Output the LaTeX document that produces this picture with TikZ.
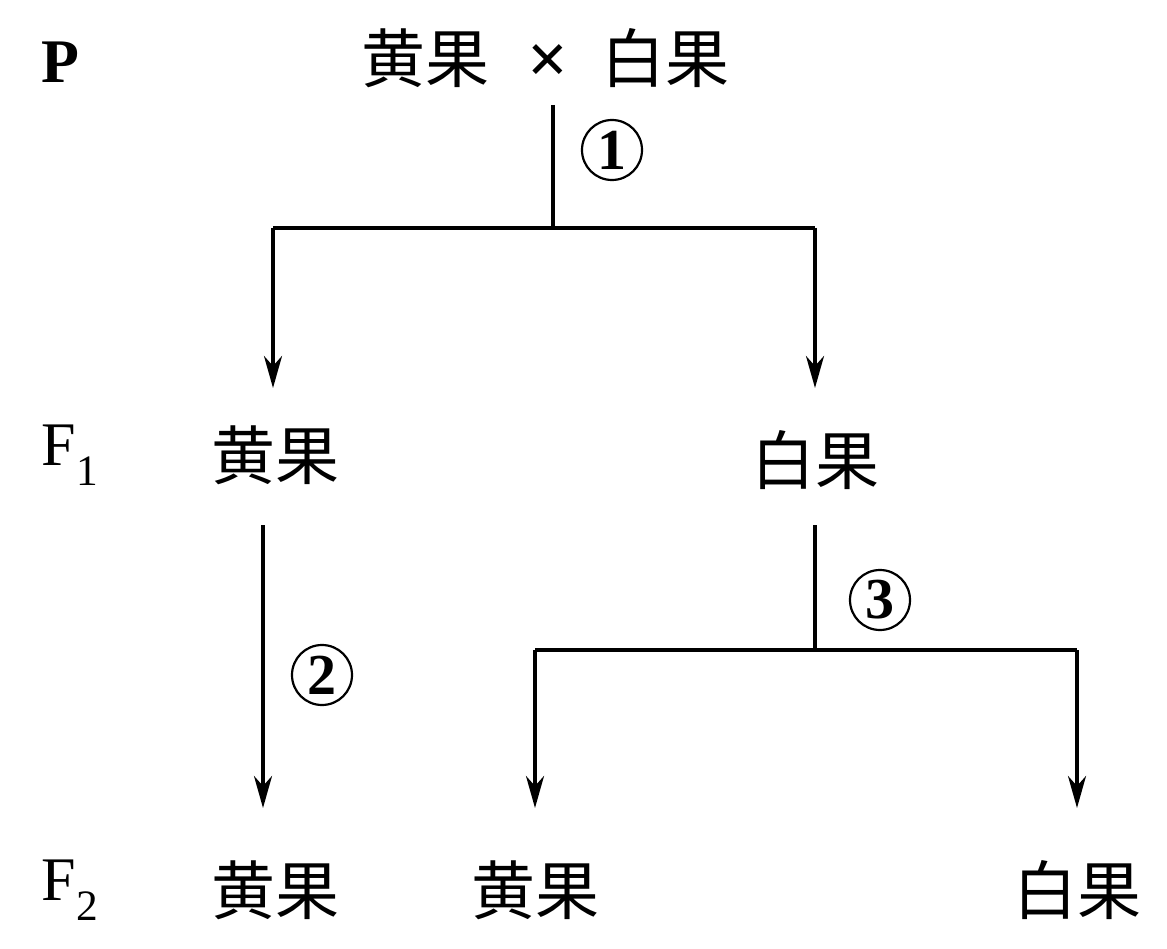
\documentclass[tikz,border=0pt]{standalone}
\usepackage{fontspec}
\setmainfont{Liberation Serif}
\newfontfamily\cjk{Noto Sans CJK SC}
\usetikzlibrary{arrows.meta}
\begin{document}
\begin{tikzpicture}[x=1pt,y=-1pt,
  cn/.style={font=\cjk\fontsize{64}{64}\selectfont,inner sep=0pt,anchor=center},
  lb/.style={font=\fontsize{62}{62}\selectfont,inner sep=0pt,anchor=center},
  num/.style={circle,draw,line width=2.2pt,minimum size=60pt,inner sep=0pt,font=\bfseries\fontsize{58}{58}\selectfont},
  ln/.style={line width=3.5pt},
  ar/.style={line width=3.5pt,-{Stealth[length=32pt,width=18pt,inset=10pt]}}]
\useasboundingbox (0,0) rectangle (1167,949);
% labels
\node[lb,font=\bfseries\fontsize{62}{62}\selectfont] (P) at (60,62) {P};
\node[lb] (F1) at (70,455) {F\textsubscript{1}};
\node[lb] (F2) at (70,890) {F\textsubscript{2}};
% parents
\node[cn] (py) at (425,58) {黄果};
\node[lb,font=\bfseries\fontsize{72}{72}\selectfont] (x) at (548,64) {×};
\node[cn] (pw) at (665,58) {白果};
% F1
\node[cn] (f1y) at (275,455) {黄果};
\node[cn] (f1w) at (815,460) {白果};
% F2
\node[cn] (f2a) at (275,890) {黄果};
\node[cn] (f2b) at (535,890) {黄果};
\node[cn] (f2c) at (1077,890) {白果};
% circled numbers
\node[num] (n1) at (612,150) {1};
\node[num] (n2) at (322,675) {2};
\node[num] (n3) at (880,600) {3};
% connectors
\coordinate (a0) at (553,105);
\coordinate (a1) at (553,228);
\coordinate (aL) at (273,228);
\coordinate (aR) at (815,228);
\coordinate (aLe) at (273,388);
\coordinate (aRe) at (815,388);
\draw[ln] (a0) -- (a1);
\draw[ln] (aL) -- (aR);
\draw[ar] (aL) -- (aLe);
\draw[ar] (aR) -- (aRe);
\coordinate (b0) at (263,525);
\coordinate (b1) at (263,808);
\draw[ar] (b0) -- (b1);
\coordinate (c0) at (815,525);
\coordinate (c1) at (815,650);
\coordinate (cL) at (535,650);
\coordinate (cR) at (1077,650);
\coordinate (cLe) at (535,808);
\coordinate (cRe) at (1077,808);
\draw[ln] (c0) -- (c1);
\draw[ln] (cL) -- (cR);
\draw[ar] (cL) -- (cLe);
\draw[ar] (cR) -- (cRe);
\end{tikzpicture}
\end{document}
